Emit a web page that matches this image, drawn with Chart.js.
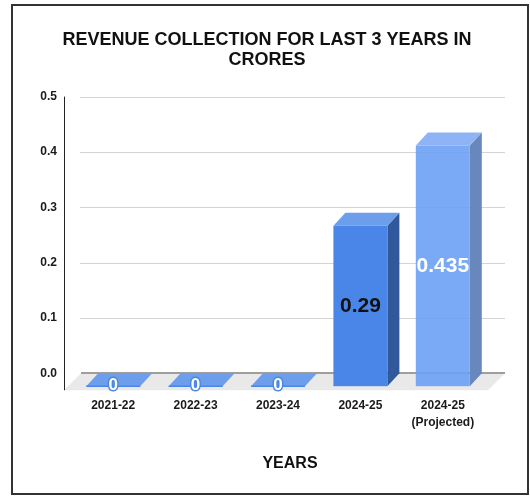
<!DOCTYPE html>
<html>
<head>
<meta charset="utf-8">
<title>Revenue collection</title>
<script src="https://cdn.jsdelivr.net/npm/chart.js@4.4.0/dist/chart.umd.min.js"></script>
<style>
  html, body { margin: 0; padding: 0; background: #fff; }
  #wrap { position: relative; width: 530px; height: 496px; }
  #chart { position: absolute; left: 0; top: 0; }
  #frame {
    position: absolute; left: 11px; top: 4px; width: 518px; height: 491px;
    border: 2px solid #333; box-sizing: border-box; pointer-events: none;
  }
</style>
</head>
<body>
<div id="wrap">
  <canvas id="chart" width="530" height="496"></canvas>
  <div id="frame"></div>
</div>
<script>
// chart data
const years = ['2021-22', '2022-23', '2023-24', '2024-25', ['2024-25', '(Projected)']];
const revenue = [0, 0, 0, 0.29, 0.435];
const valueLabels = ['0', '0', '0', '0.29', '0.435'];
const yMin = 0;
const yMax = 0.5;
const yStep = 0.1;

// 3d look
const DX = 12, DY = 13;   // bar depth
const FLOOR = 17;         // floor depth

const frontColors = ['#4a86e8', '#4a86e8', '#4a86e8', '#4a86e8', 'rgba(108,160,245,0.9)'];
const topColors = ['#6d9eeb', '#6d9eeb', '#6d9eeb', '#6d9eeb', '#8fb4f6'];
const sideColors = ['#31589a', '#31589a', '#31589a', '#31589a', '#6787bd'];
const labelColors = ['#fff', '#fff', '#fff', '#111', '#fff'];

Chart.defaults.font.family = '"Liberation Sans", Arial, sans-serif';

const bar3d = {
    id: 'bar3d',
    beforeDatasetsDraw(chart) {
        const { ctx, chartArea: a, scales: { y } } = chart;
        ctx.save();

        // floor
        ctx.fillStyle = '#e9e9e9';
        ctx.beginPath();
        ctx.moveTo(a.left - 3, a.bottom);
        ctx.lineTo(a.right + 9, a.bottom);
        ctx.lineTo(a.right + 9 - FLOOR, a.bottom + FLOOR);
        ctx.lineTo(a.left - 3 - FLOOR, a.bottom + FLOOR);
        ctx.closePath();
        ctx.fill();

        // grid lines on the back wall
        y.ticks.forEach(t => {
            const py = Math.round(y.getPixelForValue(t.value));
            ctx.beginPath();
            if (t.value === 0) {
                ctx.strokeStyle = '#9e9e9e';
                ctx.lineWidth = 2;
                ctx.moveTo(a.left - 3, py);
                ctx.lineTo(a.right + 9, py);
            } else {
                ctx.strokeStyle = '#d3d3d3';
                ctx.lineWidth = 1;
                ctx.moveTo(a.left - 4, py + 0.5);
                ctx.lineTo(a.right + 9, py + 0.5);
            }
            ctx.stroke();
        });

        // y axis line
        const ax = Math.round(a.left - 3 - FLOOR) + 0.5;
        ctx.strokeStyle = '#222';
        ctx.lineWidth = 1;
        ctx.beginPath();
        ctx.moveTo(ax, a.top);
        ctx.lineTo(ax, a.bottom + FLOOR);
        ctx.stroke();

        // bars
        chart.getDatasetMeta(0).data.forEach((bar, i) => {
            const { x, y: top, base, width } = bar.getProps(['x', 'y', 'base', 'width'], true);
            const l = x - width / 2, r = x + width / 2;
            const fl = l - DX, fr = r - DX, ft = top + DY, fb = base + DY;

            // side
            if (base - top > 0.5) {
                ctx.fillStyle = sideColors[i];
                ctx.beginPath();
                ctx.moveTo(fr, ft);
                ctx.lineTo(r, top);
                ctx.lineTo(r, base);
                ctx.lineTo(fr, fb);
                ctx.closePath();
                ctx.fill();
            }
            // top
            ctx.fillStyle = topColors[i];
            ctx.beginPath();
            ctx.moveTo(fl, ft);
            ctx.lineTo(l, top);
            ctx.lineTo(r, top);
            ctx.lineTo(fr, ft);
            ctx.closePath();
            ctx.fill();
            // front
            if (fb - ft > 0.5) {
                ctx.fillStyle = frontColors[i];
                ctx.fillRect(fl, ft, fr - fl, fb - ft);
            } else {
                ctx.strokeStyle = frontColors[i];
                ctx.lineWidth = 1.5;
                ctx.beginPath();
                ctx.moveTo(fl, fb);
                ctx.lineTo(fr, fb);
                ctx.stroke();
            }

            // value label
            const cx = (fl + fr) / 2;
            ctx.textAlign = 'center';
            ctx.textBaseline = 'middle';
            if (revenue[i] === 0) {
                ctx.font = 'bold 17px "Liberation Sans", Arial, sans-serif';
                ctx.lineWidth = 3;
                ctx.strokeStyle = '#4a86e8';
                ctx.strokeText(valueLabels[i], cx, fb - 1);
                ctx.fillStyle = labelColors[i];
                ctx.fillText(valueLabels[i], cx, fb - 1);
            } else {
                ctx.font = 'bold 21px "Liberation Sans", Arial, sans-serif';
                ctx.fillStyle = labelColors[i];
                ctx.fillText(valueLabels[i], cx, (ft + fb) / 2);
            }
        });

        ctx.restore();
        return false;
    }
};

new Chart(document.getElementById('chart'), {
    type: 'bar',
    plugins: [bar3d],
    data: {
        labels: years,
        datasets: [{
            label: 'Revenue',
            data: revenue,
            backgroundColor: frontColors,
            categoryPercentage: 1,
            barPercentage: 0.655,
        }],
    },
    options: {
        responsive: false,
        animation: false,
        layout: {
            padding: { left: 38, right: 34, top: 0, bottom: 23 }
        },
        plugins: {
            legend: { display: false },
            tooltip: { enabled: false },
            title: {
                display: true,
                text: ['REVENUE COLLECTION FOR LAST 3 YEARS IN', 'CRORES'],
                color: '#111',
                font: { size: 18, weight: 'bold', lineHeight: 1.1 },
                padding: { top: 30, bottom: 27 },
            },
        },
        scales: {
            x: {
                grid: { display: false },
                border: { display: false },
                ticks: {
                    color: '#1a1a1a',
                    font: { size: 12, weight: 'bold', lineHeight: 1.4 },
                    labelOffset: -DX,
                    padding: 16.5,
                    maxRotation: 0,
                    autoSkip: false,
                },
                title: {
                    display: true,
                    text: 'YEARS',
                    color: '#111',
                    font: { size: 16, weight: 'bold' },
                    padding: { top: 6, bottom: 0 },
                },
            },
            y: {
                min: yMin,
                max: yMax,
                grid: { display: false },
                border: { display: false },
                ticks: {
                    stepSize: yStep,
                    color: '#1a1a1a',
                    font: { size: 12, weight: 'bold' },
                    padding: 19,
                    callback: v => Number(v).toFixed(1),
                },
                afterFit: s => { s.width = 46; },
            },
        },
    },
});
</script>
</body>
</html>
